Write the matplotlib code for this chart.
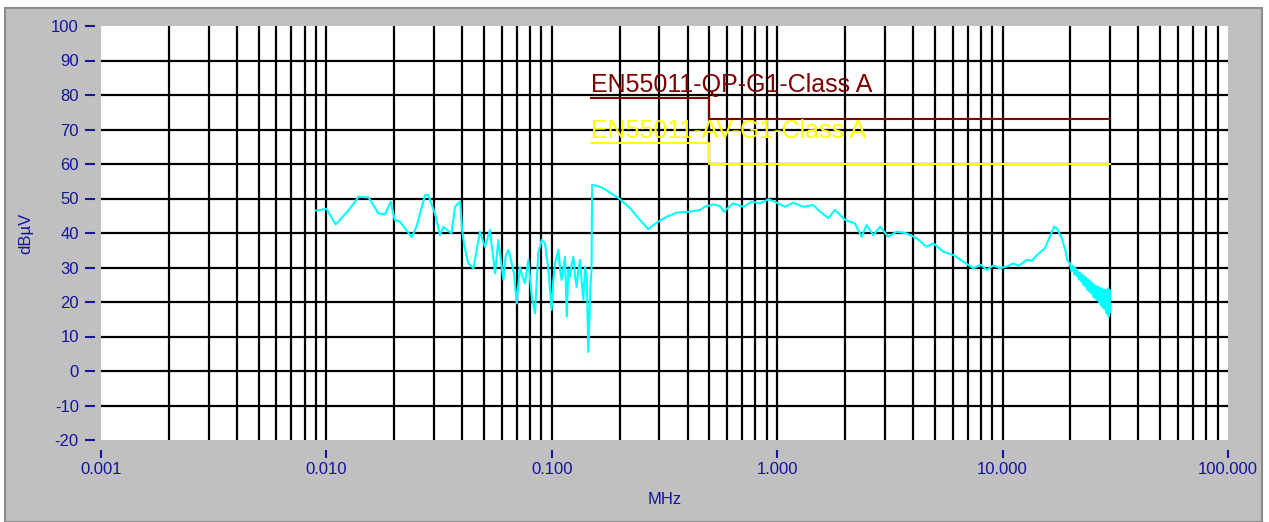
import matplotlib
matplotlib.use("Agg")
import matplotlib.pyplot as plt
from matplotlib.patches import Rectangle

plt.rcParams["axes.unicode_minus"] = False

freq_mhz = [0.0090, 0.0100, 0.0110, 0.0125, 0.0139, 0.0154, 0.0170, 0.0182, 0.0193, 0.0201,
            0.0212, 0.0239, 0.0251, 0.0274, 0.0283, 0.0303, 0.0319, 0.0330, 0.0359, 0.0372,
            0.0392, 0.0400, 0.0410, 0.0426, 0.0449, 0.0480, 0.0505, 0.0532, 0.0560, 0.0579,
            0.0610, 0.0625, 0.0642, 0.0664, 0.0680, 0.0699, 0.0722, 0.0740, 0.0760, 0.0787,
            0.0815, 0.0842, 0.0871, 0.0902, 0.0933, 0.0966, 0.0998, 0.1015, 0.1033, 0.1070,
            0.1090, 0.1106, 0.1145, 0.1165, 0.1185, 0.1205, 0.1225, 0.1248, 0.1270, 0.1289,
            0.1310, 0.1334, 0.1360, 0.1380, 0.1405, 0.1430, 0.1452, 0.1486, 0.1500, 0.1510,
            0.158, 0.169, 0.181, 0.201, 0.222, 0.246, 0.268, 0.292, 0.323, 0.358,
            0.410, 0.454, 0.478, 0.521, 0.557, 0.580, 0.638, 0.708, 0.771, 0.840,
            0.914, 0.996, 1.084, 1.179, 1.305, 1.446, 1.549, 1.687, 1.804, 2.00,
            2.21, 2.37, 2.49, 2.67, 2.86, 3.11, 3.39, 3.75, 4.15, 4.60,
            4.93, 5.46, 6.05, 6.70, 7.42, 8.00, 8.50, 9.10, 9.73, 10.6,
            11.1, 11.8, 12.8, 13.5, 14.2, 15.4, 16.2, 16.9, 17.4, 18.3,
            19.0, 19.4, 19.9, 20.2, 20.5, 20.8, 21.0, 21.3, 21.5, 21.8,
            22.0, 22.3, 22.5, 22.8, 23.0, 23.3, 23.5, 23.8, 24.0, 24.3,
            24.5, 24.8, 25.0, 25.3, 25.5, 25.8, 26.0, 26.3, 26.5, 26.8,
            27.0, 27.3, 27.5, 27.8, 28.0, 28.3, 28.5, 28.8, 29.0, 29.2,
            29.4, 29.6, 29.8, 30.0]
level_dbuv = [46.5, 47.0, 42.5, 46.5, 50.5, 50.3, 45.7, 45.4, 49.1, 43.8,
              43.3, 38.8, 41.8, 51.0, 51.0, 45.7, 39.4, 41.8, 39.9, 47.6,
              49.1, 41.0, 36.0, 31.2, 29.8, 40.4, 36.0, 40.9, 28.3, 38.0,
              26.4, 33.5, 35.1, 31.2, 28.0, 19.6, 30.2, 27.5, 25.4, 32.2,
              21.5, 16.7, 34.1, 38.0, 37.0, 29.3, 17.7, 26.0, 31.2, 35.1,
              29.0, 26.4, 33.1, 15.7, 29.5, 27.3, 31.0, 33.1, 27.0, 24.4,
              29.0, 32.2, 25.0, 20.6, 30.2, 27.0, 5.5, 25.4, 29.0, 54.0,
              53.7, 53.0, 51.7, 49.8, 47.2, 43.8, 41.1, 43.0, 44.7, 45.9,
              46.2, 46.7, 47.6, 48.3, 47.8, 46.2, 48.6, 47.6, 49.1, 48.6,
              49.8, 48.8, 47.6, 48.8, 47.6, 48.1, 46.2, 44.3, 46.7, 43.8,
              42.8, 38.9, 42.3, 39.4, 41.8, 38.9, 40.4, 39.9, 38.5, 36.0,
              37.0, 34.6, 33.6, 31.7, 29.8, 30.8, 29.3, 30.6, 29.8, 30.4,
              31.2, 30.5, 32.2, 32.0, 33.6, 35.6, 38.9, 41.8, 41.4, 38.5,
              35.0, 32.0, 31.2, 29.0, 30.5, 28.0, 30.0, 27.5, 29.0, 26.5,
              28.5, 26.0, 28.0, 25.0, 27.5, 24.5, 27.0, 23.5, 26.5, 23.0,
              26.0, 22.5, 25.5, 21.5, 25.0, 21.0, 24.5, 20.5, 24.5, 20.0,
              24.0, 19.0, 24.0, 18.5, 23.5, 18.0, 23.5, 17.0, 23.5, 16.5,
              24.0, 15.7, 23.5, 17.0]

# EN55011 group 1 class A limits (MHz, dBuV)
limit_freq = [0.15, 0.5, 0.5, 30.0]
qp_limit = [79, 79, 73, 73]
av_limit = [66, 66, 60, 60]

x_ticks = [0.001, 0.01, 0.1, 1, 10, 100]
x_labels = ["0.001", "0.010", "0.100", "1.000", "10.000", "100.000"]
y_ticks = list(range(-20, 101, 10))

blue = "#14149c"
fig = plt.figure(figsize=(12.69, 5.22), dpi=100, facecolor="white")
fig.patches.append(Rectangle((5 / 1269, 0), 1257 / 1269, 1 - 8 / 522,
                             transform=fig.transFigure, facecolor="#c0c0c0",
                             edgecolor="#8c8c8c", linewidth=1.5, zorder=-5))

ax = fig.add_axes([101 / 1269, 1 - 440 / 522, 1127 / 1269, 414 / 522])
ax.set_facecolor("white")
ax.set_xscale("log")
ax.set_xlim(0.001, 100)
ax.set_ylim(-20, 100)

# grid drawn by hand: no lines on the outer edges
for y in range(-10, 100, 10):
    ax.axhline(y, color="black", lw=1.6, zorder=1)
for dec in [0.001, 0.01, 0.1, 1, 10]:
    for m in range(1, 10):
        if dec * m > 0.001:
            ax.axvline(dec * m, color="black", lw=1.6, zorder=1)

ax.plot(limit_freq, qp_limit, color="#800000", lw=1.5, zorder=3)
ax.plot(limit_freq, av_limit, color="#ffff00", lw=1.5, zorder=3)
ax.text(0.15, 81, "EN55011-QP-G1-Class A", color="#800000", fontsize=18,
        family="Liberation Sans", va="baseline", ha="left", zorder=4)
ax.text(0.15, 67.6, "EN55011-AV-G1-Class A", color="#ffff00", fontsize=18,
        family="Liberation Sans", va="baseline", ha="left", zorder=4)

ax.plot(freq_mhz, level_dbuv, color="#00ffff", lw=1.5, zorder=5)

for s in ax.spines.values():
    s.set_visible(False)
ax.spines["bottom"].set_position(("outward", 7))
ax.spines["left"].set_position(("outward", 4))

ax.set_xticks(x_ticks)
ax.set_xticklabels(x_labels)
ax.xaxis.set_minor_locator(matplotlib.ticker.NullLocator())
ax.set_yticks(y_ticks)
ax.tick_params(axis="x", colors=blue, length=6, width=1.5, pad=3, labelsize=12)
ax.tick_params(axis="y", colors=blue, length=7, width=1.5, pad=5, labelsize=12)
for lab in ax.get_xticklabels() + ax.get_yticklabels():
    lab.set_family("Liberation Sans")

ax.set_xlabel("MHz", color=blue, fontsize=12, family="Liberation Sans", labelpad=11)
ax.set_ylabel("dBµV", color=blue, fontsize=12, family="Liberation Sans", labelpad=13)

fig.savefig("out.png", dpi=100, facecolor=fig.get_facecolor())
